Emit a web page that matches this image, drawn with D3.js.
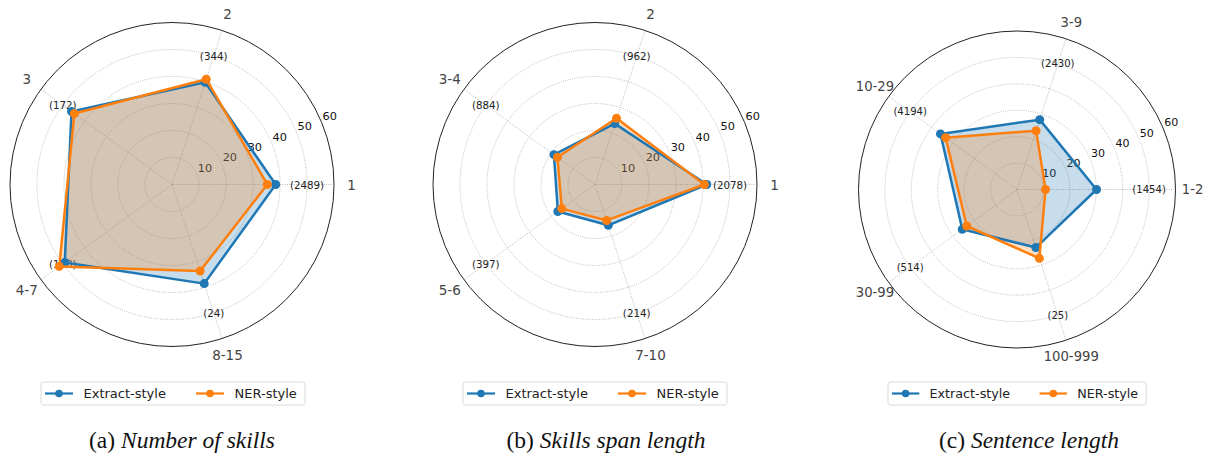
<!DOCTYPE html>
<html>
<head>
<meta charset="utf-8">
<script src="https://cdn.jsdelivr.net/npm/d3@7.9.0/dist/d3.min.js"></script>
<style>
  body { margin: 0; background: #fff; }
  text { font-family: 'DejaVu Sans', sans-serif; }
  .caption { font-family: 'Liberation Serif', 'Times New Roman', serif; }
</style>
</head>
<body>
<svg id="chart" width="1207" height="454"></svg>
<script>
// ---- data ----
const seriesNames = ['Extract-style', 'NER-style'];
const seriesColors = ['#1f77b4', '#ff7f0e'];
const radialTicks = [10, 20, 30, 40, 50, 60];

const skillsCats = ['1', '2', '3', '4-7', '8-15'];
const skillsCounts = [2489, 344, 172, 158, 24];
const skillsExtract = [38.4, 39.8, 46.0, 49.1, 38.6];
const skillsNer = [35.3, 41.0, 44.7, 51.6, 33.7];

const spanCats = ['1', '2', '3-4', '5-6', '7-10'];
const spanCounts = [2078, 962, 884, 397, 214];
const spanExtract = [41.4, 23.7, 18.8, 17.0, 15.9];
const spanNer = [40.5, 25.8, 17.2, 15.2, 14.0];

const sentCats = ['1-2', '3-9', '10-29', '30-99', '100-999'];
const sentCounts = [1454, 2430, 4194, 514, 25];
const sentExtract = [30.1, 27.8, 35.8, 25.6, 23.1];
const sentNer = [10.8, 23.4, 33.4, 23.5, 27.4];

const captionLetters = ['(a)', '(b)', '(c)'];
const captionTitles = ['Number of skills', 'Skills span length', 'Sentence length'];

// ---- layout ----
const panels = [
  { cx: 172, cy: 184.5, r: 162, k: 1, cats: skillsCats, counts: skillsCounts, series: [skillsExtract, skillsNer], legendX: 41, capX: 182 },
  { cx: 595, cy: 184.5, r: 162, k: 1, cats: spanCats, counts: spanCounts, series: [spanExtract, spanNer], legendX: 463, capX: 606 },
  { cx: 1017, cy: 189.5, r: 158.5, k: 0.978, cats: sentCats, counts: sentCounts, series: [sentExtract, sentNer], legendX: 888, capX: 1029 },
];

const svg = d3.select('#chart');

function drawPanel(p, i) {
  const g = svg.append('g').attr('transform', `translate(${p.cx},${p.cy})`);
  const n = p.cats.length;
  const rScale = d3.scaleLinear().domain([0, 60]).range([0, p.r]);
  // matplotlib theta: 0 at east, counter-clockwise
  const theta = d3.scaleLinear().domain([0, n]).range([0, 2 * Math.PI]);
  const px = (t, r) => r * Math.cos(t);
  const py = (t, r) => -r * Math.sin(t);

  // rings
  g.selectAll('circle.ring')
    .data(radialTicks.slice(0, -1))
    .join('circle')
    .attr('class', 'ring')
    .attr('r', (d) => rScale(d))
    .attr('fill', 'none')
    .attr('stroke', '#a8a8a8')
    .attr('stroke-width', 0.85)
    .attr('stroke-dasharray', '0.9,1.4');

  // spokes
  g.selectAll('line.spoke')
    .data(d3.range(n))
    .join('line')
    .attr('class', 'spoke')
    .attr('x1', 0).attr('y1', 0)
    .attr('x2', (d) => px(theta(d), p.r))
    .attr('y2', (d) => py(theta(d), p.r))
    .attr('stroke', '#a8a8a8')
    .attr('stroke-width', 0.85)
    .attr('stroke-dasharray', '0.9,1.4');

  // outer spine
  g.append('circle')
    .attr('r', p.r)
    .attr('fill', 'none')
    .attr('stroke', '#222')
    .attr('stroke-width', 1);

  // radial tick labels at 22.5 deg
  const rl = (22.5 * Math.PI) / 180;
  g.selectAll('text.rtick')
    .data(radialTicks)
    .join('text')
    .attr('class', 'rtick')
    .attr('x', (d) => px(rl, rScale(d)) + 8 * p.k)
    .attr('y', (d) => py(rl, rScale(d)) - 6 * p.k)
    .attr('text-anchor', 'middle')
    .attr('dominant-baseline', 'central')
    .attr('font-size', 11.3 * p.k)
    .attr('fill', '#111')
    .text((d) => d);

  // category labels
  g.selectAll('text.cat')
    .data(p.cats)
    .join('text')
    .attr('class', 'cat')
    .attr('x', (d, j) => px(theta(j), p.r + 17.5 * p.k))
    .attr('y', (d, j) => py(theta(j), p.r + 17.5 * p.k))
    .attr('text-anchor', 'middle')
    .attr('dominant-baseline', 'central')
    .attr('font-size', 13.5 * p.k)
    .attr('fill', '#444')
    .text((d) => d);

  // count labels at r = 50
  g.selectAll('text.count')
    .data(p.counts)
    .join('text')
    .attr('class', 'count')
    .attr('x', (d, j) => px(theta(j), rScale(50)))
    .attr('y', (d, j) => py(theta(j), rScale(50)))
    .attr('text-anchor', 'middle')
    .attr('dominant-baseline', 'central')
    .attr('font-size', 10.3 * p.k)
    .attr('fill', '#222')
    .text((d) => `(${d})`);

  const radial = d3.lineRadial()
    .angle((d, j) => Math.PI / 2 - theta(j))
    .radius((d) => rScale(d))
    .curve(d3.curveLinearClosed);

  // fills
  p.series.forEach((vals, s) => {
    g.append('path')
      .attr('d', radial(vals))
      .attr('fill', seriesColors[s])
      .attr('fill-opacity', 0.25)
      .attr('stroke', 'none');
  });

  // lines + markers
  p.series.forEach((vals, s) => {
    g.append('path')
      .attr('d', radial(vals))
      .attr('fill', 'none')
      .attr('stroke', seriesColors[s])
      .attr('stroke-width', 2.5)
      .attr('stroke-linejoin', 'round');
    g.selectAll(`circle.m${s}`)
      .data(vals)
      .join('circle')
      .attr('class', `m${s}`)
      .attr('cx', (d, j) => px(theta(j), rScale(d)))
      .attr('cy', (d, j) => py(theta(j), rScale(d)))
      .attr('r', 4.5)
      .attr('fill', seriesColors[s]);
  });

  // legend
  const k = p.k;
  const lg = svg.append('g').attr('transform', `translate(${p.legendX},382)`);
  lg.append('rect')
    .attr('x', 0).attr('y', 0)
    .attr('width', 264 * k).attr('height', 23)
    .attr('rx', 2.5)
    .attr('fill', '#fff')
    .attr('stroke', '#d6d6d6')
    .attr('stroke-width', 0.9);
  const itemX = [4, 155];
  seriesNames.forEach((name, s) => {
    const x0 = itemX[s] * k;
    lg.append('line')
      .attr('x1', x0).attr('x2', x0 + 28 * k)
      .attr('y1', 11.5).attr('y2', 11.5)
      .attr('stroke', seriesColors[s])
      .attr('stroke-width', 2.2);
    lg.append('circle')
      .attr('cx', x0 + 14 * k).attr('cy', 11.5)
      .attr('r', 3.8)
      .attr('fill', seriesColors[s]);
    lg.append('text')
      .attr('x', x0 + 38.5 * k)
      .attr('y', 11.5)
      .attr('dominant-baseline', 'central')
      .attr('font-size', 13 * k)
      .attr('fill', '#222')
      .text(name);
  });

  // caption
  const cap = svg.append('text')
    .attr('class', 'caption')
    .attr('x', p.capX)
    .attr('y', 448)
    .attr('text-anchor', 'middle')
    .attr('font-size', 23.5)
    .attr('fill', '#111');
  cap.append('tspan').text(captionLetters[i] + ' ');
  cap.append('tspan').attr('font-style', 'italic').text(captionTitles[i]);
}

panels.forEach(drawPanel);
</script>
</body>
</html>
